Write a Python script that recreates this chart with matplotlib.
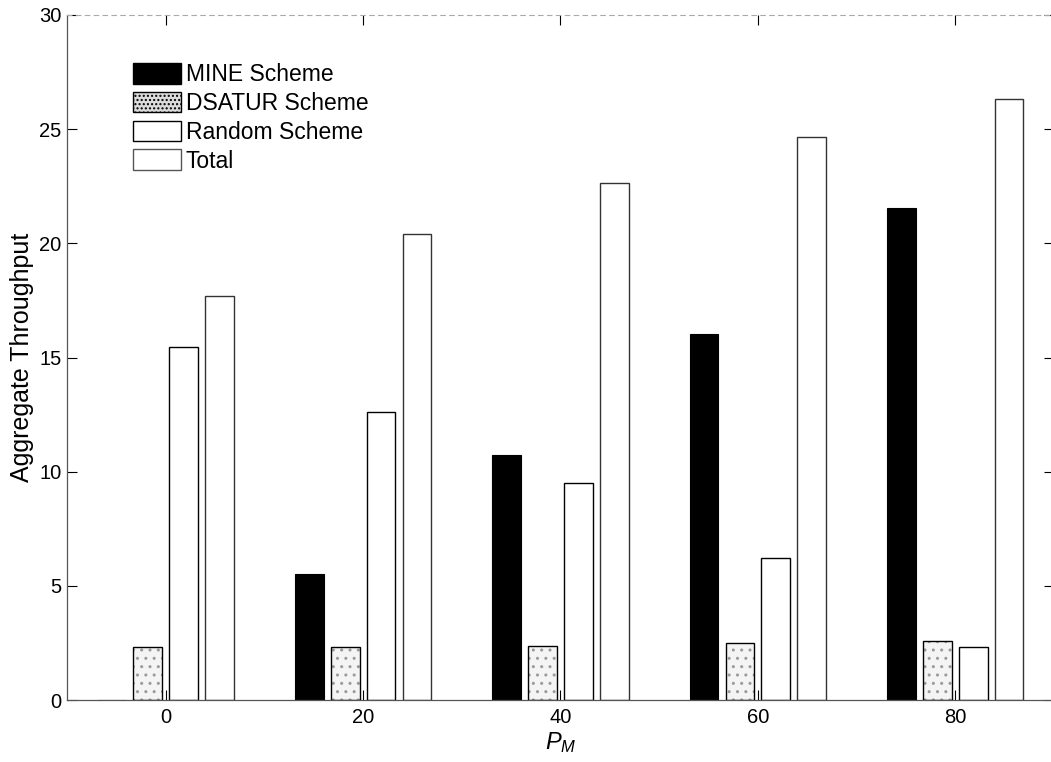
import matplotlib
matplotlib.use("Agg")
import matplotlib.pyplot as plt
import numpy as np
from matplotlib.patches import Patch

plt.rcParams["font.family"] = ["Liberation Sans", "DejaVu Sans"]
plt.rcParams["mathtext.fontset"] = "custom"
plt.rcParams["mathtext.it"] = "Liberation Sans:italic"
plt.rcParams["mathtext.rm"] = "Liberation Sans"

# values
pm_values = [0, 20, 40, 60, 80]
mine = [0.0, 5.5, 10.75, 16.05, 21.55]
dsatur = [2.3, 2.3, 2.38, 2.5, 2.6]
random_scheme = [15.44, 12.6, 9.5, 6.22, 2.33]
total = [17.7, 20.4, 22.63, 24.66, 26.3]
series_labels = ["MINE Scheme", "DSATUR Scheme", "Random Scheme", "Total"]

fig = plt.figure(figsize=(10.51, 7.62), dpi=100)
ax = fig.add_axes([67 / 1051, 62 / 762, 987 / 1051, 685 / 762])

x = np.array(pm_values, dtype=float)
slot = 20 * 4 / 5.5 / 4          # MATLAB grouped-bar spacing
width = 0.8 * slot
offsets = (np.arange(4) - 1.5) * slot

ax.bar(x + offsets[0], mine, width, color="black", edgecolor="black", lw=0.8)
# stippled gray fill of the DSATUR bars, outline drawn on top
ax.bar(x + offsets[1], dsatur, width, color="#f4f4f4", edgecolor="#9a9a9a",
       hatch="..", lw=0)
ax.bar(x + offsets[1], dsatur, width, fill=False, edgecolor="black", lw=1.0)
ax.bar(x + offsets[2], random_scheme, width, color="white", edgecolor="black", lw=1.0)
ax.bar(x + offsets[3], total, width, color="white", edgecolor="#333333", lw=1.0)

ax.set_xlim(-10, 90)
ax.set_ylim(0, 30)
ax.set_xticks(pm_values)
ax.set_yticks(range(0, 31, 5))
ax.tick_params(direction="in", length=7, width=0.8, top=True, right=True,
               labelsize=14.5, colors="black")
ax.tick_params(axis="y", pad=4)
ax.tick_params(axis="x", pad=6)

for side in ["left", "bottom"]:
    ax.spines[side].set_color("#555555")
    ax.spines[side].set_linewidth(0.9)
ax.spines["top"].set_color("#aaaaaa")
ax.spines["top"].set_linestyle((0, (4, 4)))
ax.spines["top"].set_linewidth(0.8)
ax.spines["right"].set_visible(False)

ax.set_ylabel("Aggregate Throughput", fontsize=18, labelpad=4)
ax.set_xlabel(r"$P_M$", fontsize=17, labelpad=2)

handles = [
    Patch(facecolor="black", edgecolor="black"),
    Patch(facecolor="#dcdcdc", edgecolor="black", hatch="...."),
    Patch(facecolor="white", edgecolor="black"),
    Patch(facecolor="white", edgecolor="#555555"),
]
fig.legend(handles, series_labels, loc="upper left",
           bbox_to_anchor=(133 / 1051, 1 - 63 / 762),
           bbox_transform=fig.transFigure, frameon=False, fontsize=16.5,
           borderpad=0, borderaxespad=0, handlelength=2.1, handleheight=1.0,
           handletextpad=0.2, labelspacing=0.25)

fig.savefig("out.png", dpi=100)
